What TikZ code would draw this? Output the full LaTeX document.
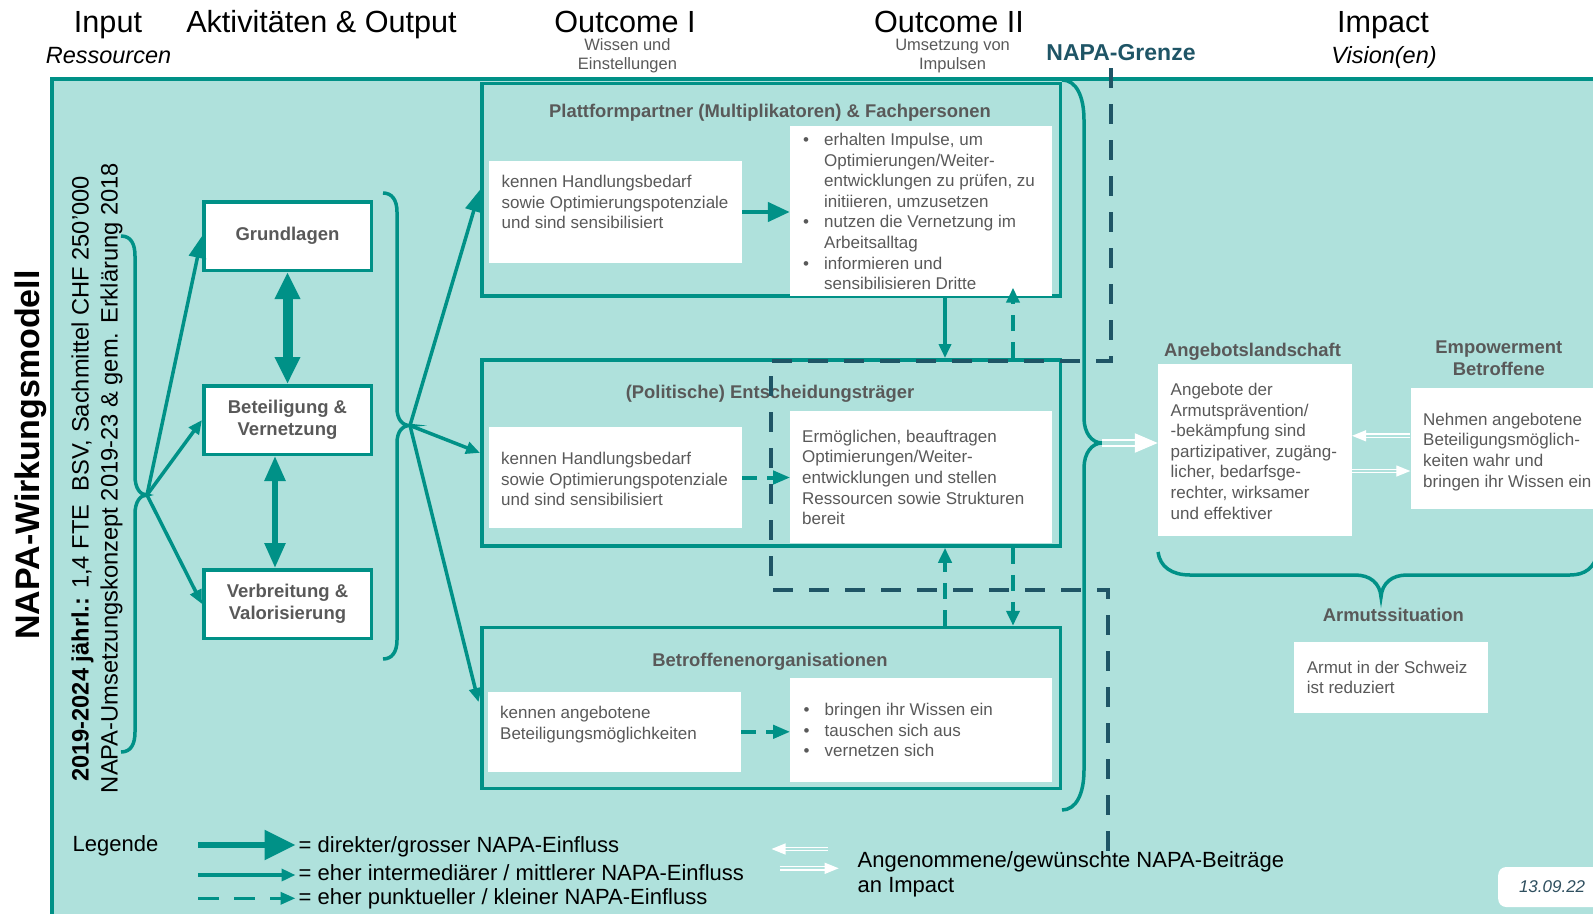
\documentclass[tikz,border=0pt]{standalone}
\usepackage{fontspec}
\setmainfont{Liberation Sans}
\usetikzlibrary{arrows.meta,calc}
\definecolor{teal1}{RGB}{0,145,135}
\definecolor{bgc}{RGB}{175,225,220}
\definecolor{napa}{RGB}{31,85,102}
\definecolor{txtgray}{RGB}{89,89,89}
\definecolor{datec}{RGB}{47,79,95}
\newcommand\fsz[2]{\fontsize{#1}{#2}\selectfont}
\newcommand\bulmark{\makebox[21pt][l]{\textbullet}}
\newcommand\bulind{\makebox[21pt]{}}
\newcommand\twoline[2]{\raisebox{-4pt}{\begin{tabular}{@{}c@{}}#1\\#2\end{tabular}}}
\tikzset{
  hdr/.style={font=\fsz{30.6}{36}, inner sep=0pt},
  hdrit/.style={font=\itshape\fsz{23.5}{28}, inner sep=0pt},
  subhdr/.style={font=\fsz{16.5}{19.5}, text=txtgray, align=center, inner sep=0pt},
  actbox/.style={draw=teal1, line width=3.5pt, fill=white, minimum width=167.5pt, minimum height=68.5pt, inner sep=0pt, align=center, font=\bfseries\fsz{18.5}{22}, text=txtgray},
  outbox/.style={draw=teal1, line width=3.5pt, inner sep=0pt, minimum width=578.5pt},
  wbox/.style={fill=white, inner sep=0pt},
  btxt/.style={anchor=north west, inner sep=0pt, align=left, font=\fsz{17}{20.6}, text=txtgray},
  otitle/.style={font=\bfseries\fsz{18.4}{22.4}, text=txtgray, inner sep=0pt, align=center},
  lgd/.style={font=\fsz{22}{25.4}, inner sep=0pt},
  arrS/.style={draw=teal1, line width=3.5pt, -{Triangle[length=14pt,width=12pt]}},
  arrM/.style={draw=teal1, line width=3.5pt, -{Triangle[length=22pt,width=17pt]}},
  arrL/.style={draw=teal1, line width=4.5pt, -{Triangle[length=22pt,width=19pt]}},
  arrD/.style={draw=teal1, line width=4pt, dash pattern=on 16pt off 11pt, -{Triangle[length=15pt,width=13pt]}},
  arrDs/.style={draw=teal1, line width=4pt, dash pattern=on 15pt off 10pt, -{Triangle[length=17pt,width=13pt]}},
  dblL/.style={draw=teal1, line width=10pt, {Triangle[length=27pt,width=24pt]}-{Triangle[length=27pt,width=24pt]}},
  dblM/.style={draw=teal1, line width=5.5pt, {Triangle[length=25pt,width=20pt]}-{Triangle[length=25pt,width=20pt]}},
  lgbig/.style={draw=teal1, line width=5.7pt, -{Triangle[length=31pt,width=29pt]}},
  lgmid/.style={draw=teal1, line width=3.5pt, -{Triangle[length=14pt,width=12pt]}},
  lgdash/.style={draw=teal1, line width=3.5pt, dash pattern=on 21pt off 15pt, -{Triangle[length=15pt,width=12pt]}},
  wbig/.style={draw=white, double=bgc, double distance=4.3pt, line width=2.2pt, -{Triangle[length=23pt,width=19pt]}},
  wsml/.style={draw=white, double=bgc, double distance=2.2pt, line width=1.3pt, -{Triangle[length=14pt,width=11pt]}},
  brace/.style={draw=teal1, line width=3.5pt},
  napaline/.style={draw=napa, line width=4.5pt, dash pattern=on 20pt off 16pt}
}
\begin{document}
\begin{tikzpicture}[x=1pt,y=-1pt]
\useasboundingbox (0,0) rectangle (1593,913);
% panel
\fill[bgc] (52,79) rectangle (1600,920);
\draw[teal1, line width=3.5pt] (52,920) -- (52,79) -- (1600,79);

% headers
\node[hdr, anchor=base] (hin) at (108,32.3) {Input};
\node[hdrit, anchor=base] (hres) at (108.5,63) {Ressourcen};
\node[hdr, anchor=base] (hakt) at (321.5,32.3) {Aktivitäten \& Output};
\node[hdr, anchor=base] (ho1) at (625,32.3) {Outcome I};
\node[subhdr, anchor=north] (ho1s) at (627.5,36.4) {\strut Wissen und\\Einstellungen};
\node[hdr, anchor=base] (ho2) at (949,32.3) {Outcome II};
\node[subhdr, anchor=north] (ho2s) at (952.6,36.4) {\strut Umsetzung von\\Impulsen};
\node[font=\bfseries\fsz{23}{28}, text=napa, inner sep=0pt, anchor=base] (hng) at (1121,60.7) {NAPA-Grenze};
\node[hdr, anchor=base] (himp) at (1383,32.3) {Impact};
\node[hdrit, anchor=base] (hvis) at (1384,63) {Vision(en)};

% vertical texts
\node[rotate=90, font=\bfseries\fsz{34}{40}, inner sep=0pt] (ttl) at (30.5,455) {NAPA-Wirkungsmodell};
\node[rotate=90, font=\fsz{23.7}{28}, inner sep=0pt] (res1) at (82.5,479) {\textbf{2019-2024 jährl.:} 1,4 FTE\ \ BSV, Sachmittel CHF 250’000};
\node[rotate=90, font=\fsz{23.7}{28}, inner sep=0pt] (res2) at (111.5,478) {NAPA-Umsetzungskonzept 2019-23 \& gem. Erklärung 2018};

% braces
\draw[brace] (121,236) .. controls (131,236) and (135,244) .. (135,256) -- (135,476)
  .. controls (135,488) and (140,495) .. (147,495) .. controls (140,495) and (135,502) .. (135,514)
  -- (135,732) .. controls (135,744) and (131,752) .. (121,752);
\draw[brace] (383,193) .. controls (392,193) and (397,200) .. (397,212) -- (397,408)
  .. controls (397,419) and (402,425.5) .. (410,425.5) .. controls (402,425.5) and (397,432) .. (397,443)
  -- (397,640) .. controls (397,652) and (392,659) .. (383,659);
\draw[brace] (1062,80) .. controls (1076,80) and (1084,96) .. (1084,120) -- (1084,418)
  .. controls (1084,433) and (1092,443) .. (1102,443) .. controls (1092,443) and (1084,453) .. (1084,468)
  -- (1084,770) .. controls (1084,794) and (1076,810) .. (1062,810);
\draw[brace] (1158,552) .. controls (1160,567) and (1172,575) .. (1190,575) -- (1355,575)
  .. controls (1370,575) and (1380,583) .. (1381,597) .. controls (1382,583) and (1392,575) .. (1407,575)
  -- (1570,575) .. controls (1585,575) and (1594,568) .. (1598,553);

% activity boxes
\node[actbox] (gl) at (287.5,236) {Grundlagen};
\node[actbox] (bv) at (287.5,420) {\twoline{Beteiligung \&}{Vernetzung}};
\node[actbox] (vv) at (287.5,604) {\twoline{Verbreitung \&}{Valorisierung}};

% outcome boxes
\node[outbox, minimum height=212.5pt] (pp) at (771,189.7) {};
\node[outbox, minimum height=186.2pt] (ep) at (771,452.9) {};
\node[outbox, minimum height=160.8pt] (bo) at (771,707.9) {};

% white boxes
\node[wbox, minimum width=253pt, minimum height=102pt] (plL) at (615.5,212) {};
\node[wbox, minimum width=262pt, minimum height=170pt] (plR) at (921,211) {};
\node[wbox, minimum width=252.5pt, minimum height=101.6pt] (epL) at (615.7,477.5) {};
\node[wbox, minimum width=261.6pt, minimum height=131.7pt] (epR) at (921.2,476.8) {};
\node[wbox, minimum width=253pt, minimum height=79.7pt] (boL) at (614.5,731.8) {};
\node[wbox, minimum width=261.6pt, minimum height=103.7pt] (boR) at (921.2,729.8) {};
\node[wbox, minimum width=193.8pt, minimum height=171.4pt] (ag) at (1254.9,450) {};
\node[wbox, minimum width=190pt, minimum height=121pt, anchor=west] (em) at (1410.3,448.8) {};
\node[wbox, minimum width=193.9pt, minimum height=71.6pt] (ar) at (1391,677.5) {};

% titles
\node[otitle, anchor=base] (ppt) at (770,117.3) {Plattformpartner (Multiplikatoren) \& Fachpersonen};
\node[otitle, anchor=base] (ept) at (770,398.3) {(Politische) Entscheidungsträger};
\node[otitle, anchor=base] (bot) at (770,666.7) {Betroffenenorganisationen};
\node[otitle, anchor=base] (agh) at (1252.5,356) {Angebotslandschaft};
\node[otitle, anchor=north] (emh) at (1498.8,337.6) {\strut Empowerment\\Betroffene};
\node[otitle, anchor=base] (arh) at (1393.4,621.7) {Armutssituation};

% box texts
\node[btxt] (plLt) at (501.5,172.9) {\strut kennen Handlungsbedarf\\sowie Optimierungspotenziale\\und sind sensibilisiert};
\node[btxt] (plRt) at (803,130.9) {\strut\bulmark erhalten Impulse, um\\\bulind Optimierungen/Weiter-\\\bulind entwicklungen zu prüfen, zu\\\bulind initiieren, umzusetzen\\\bulmark nutzen die Vernetzung im\\\bulind Arbeitsalltag\\\bulmark informieren und\\\bulind sensibilisieren Dritte};
\node[btxt] (epLt) at (501,449.9) {\strut kennen Handlungsbedarf\\sowie Optimierungspotenziale\\und sind sensibilisiert};
\node[btxt] (epRt) at (802,427.6) {\strut Ermöglichen, beauftragen\\Optimierungen/Weiter-\\entwicklungen und stellen\\Ressourcen sowie Strukturen\\bereit};
\node[btxt] (boLt) at (500,703.9) {\strut kennen angebotene\\Beteiligungsmöglichkeiten};
\node[btxt] (boRt) at (803.5,700.9) {\strut\bulmark bringen ihr Wissen ein\\\bulmark tauschen sich aus\\\bulmark vernetzen sich};
\node[btxt] (agt) at (1170.5,380.9) {\strut Angebote der\\Armutsprävention/\\-bekämpfung sind\\partizipativer, zugäng-\\licher, bedarfsge-\\rechter, wirksamer\\und effektiver};
\node[btxt] (emt) at (1423,410.6) {\strut Nehmen angebotene\\Beteiligungsmöglich-\\keiten wahr und\\bringen ihr Wissen ein};
\node[btxt, font=\fsz{17}{20}] (art) at (1306.6,659.7) {\strut Armut in der Schweiz\\ist reduziert};

% NAPA boundary
\draw[napaline] (1111,68) -- (1111,361) -- (771,361) -- (771,590) -- (1108,590) -- (1108,852);

% arrows activities
\coordinate (b1) at (147,495);
\draw[arrM] (b1) -- (gl.west);
\draw[arrS] (b1) -- (bv.west);
\draw[arrS] (b1) -- (vv.west);
\draw[dblL] (gl.south) -- (bv.north);
\draw[dblM] ([xshift=-12.5pt]bv.south) -- ([xshift=-12.5pt]vv.north);

% arrows to outcomes
\coordinate (b2) at (410,425.5);
\draw[arrM] (b2) -- (pp.west);
\draw[arrS] (b2) -- (ep.west);
\draw[arrS, shorten >=6pt] (b2) -- (bo.west);

\draw[arrL] (plL.east) -- (plL.east -| plR.west);
\draw[arrDs] (epL.east) -- (epL.east -| epR.west);
\draw[arrDs] (boL.east) -- (boL.east -| boR.west);

\draw[arrS] ([xshift=174pt]pp.south) -- ([xshift=174pt]ep.north);
\draw[arrD] ([xshift=242pt]ep.north) -- ([xshift=242pt,yshift=10pt]pp.south);
\draw[arrD] ([xshift=174pt]bo.north) -- ([xshift=174pt]ep.south);
\draw[arrD] ([xshift=242pt]ep.south) -- ([xshift=242pt]bo.north);

% impact white arrows
\coordinate (b3) at (1102,443);
\draw[wbig] (b3) -- (b3 -| ag.west);
\coordinate (w1) at ($(em.west)+(0,-13)$);
\draw[wsml] (w1) -- (w1 -| ag.east);
\coordinate (w2) at ($(ag.east)+(0,21)$);
\draw[wsml] (w2) -- (w2 -| em.west);

% legend
\node[lgd, anchor=base] (leg) at (115.5,851.7) {Legende};
\node[lgd, anchor=base west] (lg1) at (298.5,852.7) {= direkter/grosser NAPA-Einfluss};
\node[lgd, anchor=base west] (lg2) at (298.5,880) {= eher intermediärer / mittlerer NAPA-Einfluss};
\node[lgd, anchor=base west] (lg3) at (298.5,904) {= eher punktueller / kleiner NAPA-Einfluss};
\coordinate (la1) at (198,845);
\draw[lgbig, shorten >=3pt] (la1) -- (la1 -| lg1.west);
\coordinate (la2) at (198,875);
\draw[lgmid, shorten >=3pt] (la2) -- (la2 -| lg2.west);
\coordinate (la3) at (198,898.3);
\draw[lgdash, shorten >=3pt] (la3) -- (la3 -| lg3.west);

\node[lgd, anchor=north west, align=left] (lgw) at (857.5,849.5) {\strut Angenommene/gewünschte NAPA-Beiträge\\an Impact};
\coordinate (lw1) at (828,849);
\coordinate (lw2) at (771.5,849);
\draw[wsml] (lw1) -- (lw2);
\coordinate (lw3) at (779.6,868.3);
\coordinate (lw4) at (838.7,868.3);
\draw[wsml] (lw3) -- (lw4);

% date
\node[fill=white, rounded corners=8pt, anchor=west, minimum height=40pt, inner xsep=20.8pt, inner ysep=0pt, font=\itshape\fsz{17}{20}, text=datec] (dt) at (1498,887) {13.09.22};
\end{tikzpicture}
\end{document}
